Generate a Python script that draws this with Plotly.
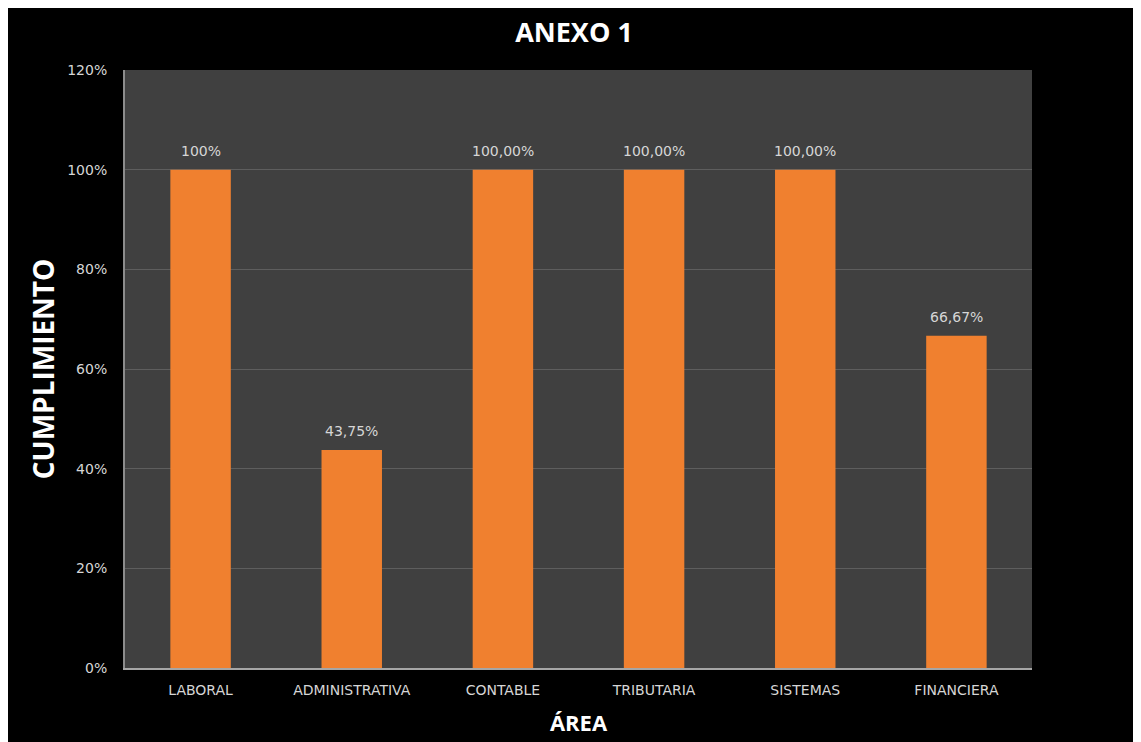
import plotly.graph_objects as go

# Datos del gráfico
areas = ["LABORAL", "ADMINISTRATIVA", "CONTABLE", "TRIBUTARIA", "SISTEMAS", "FINANCIERA"]
cumplimiento = [1.0, 0.4375, 1.0, 1.0, 1.0, 0.6667]
etiquetas = ["100%", "43,75%", "100,00%", "100,00%", "100,00%", "66,67%"]
y_ticks = [0, 0.2, 0.4, 0.6, 0.8, 1.0, 1.2]
y_tick_text = ["0%", "20%", "40%", "60%", "80%", "100%", "120%"]

_BAR_COLOUR = "#F0802F"
_PLOT_BG = "#404040"
_TEXT = "#d6d6d6"
_TITLE_FONT = "Open Sans, Lato, Arial, sans-serif"
_TICK_FONT = "DejaVu Sans, Arial, sans-serif"

fig = go.Figure()

fig.add_trace(go.Bar(
    x=areas,
    y=cumplimiento,
    marker=dict(color=_BAR_COLOUR, line=dict(width=0)),
    hoverinfo="skip",
))

# data labels sit a bit higher than plotly's "outside" text
for area, val, lab in zip(areas, cumplimiento, etiquetas):
    fig.add_annotation(
        x=area, y=val, text=lab, showarrow=False,
        yanchor="bottom", yshift=9,
        font=dict(size=14, color=_TEXT, family=_TICK_FONT),
    )

fig.update_layout(
    width=1141,
    height=742,
    paper_bgcolor="black",
    plot_bgcolor=_PLOT_BG,
    bargap=0.6,
    showlegend=False,
    margin=dict(l=117, r=117, t=62, b=82),
    font=dict(family=_TICK_FONT, color=_TEXT),
    title=dict(
        text="<b>ANEXO 1</b>",
        x=566 / 1141,
        xanchor="center",
        y=1 - 25 / 742,
        yanchor="middle",
        font=dict(size=27, color="white", family=_TITLE_FONT),
    ),
    xaxis=dict(
        title=dict(text="<b>ÁREA</b>", font=dict(size=22, color="white", family=_TITLE_FONT),
                   standoff=19),
        tickfont=dict(size=14, color=_TEXT),
        showline=True,
        linecolor="#a6a6a6",
        linewidth=2,
        showgrid=False,
        ticklabelstandoff=8,
    ),
    yaxis=dict(
        title=dict(text="<b>CUMPLIMIENTO</b>", font=dict(size=28, color="white", family=_TITLE_FONT),
                   standoff=4),
        range=[0, 1.2],
        tickvals=y_ticks,
        ticktext=y_tick_text,
        tickfont=dict(size=14, color=_TEXT),
        showline=True,
        linecolor="#8c8c8c",
        linewidth=2,
        showgrid=True,
        gridcolor="#5e5e5e",
        gridwidth=1,
        zeroline=False,
        ticklabelstandoff=13,
    ),
)

fig.write_html("out.html")
